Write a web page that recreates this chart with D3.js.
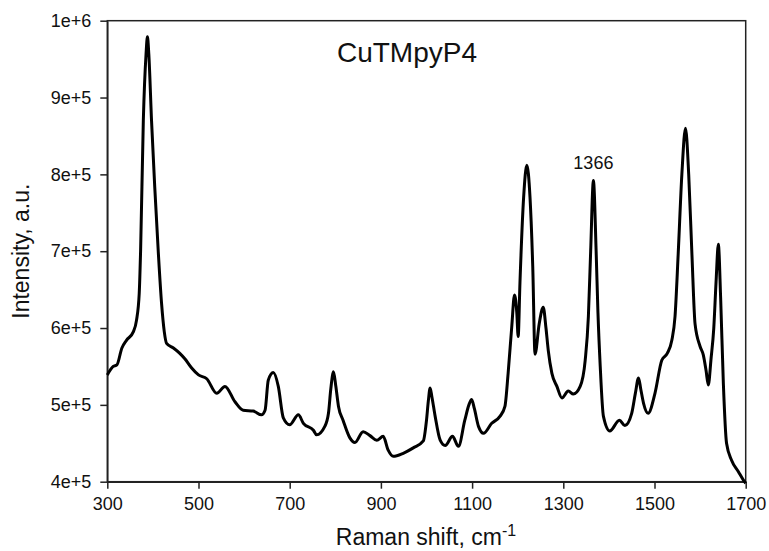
<!DOCTYPE html>
<html>
<head>
<meta charset="utf-8">
<script src="https://cdn.jsdelivr.net/npm/d3@7"></script>
<style>
  body { margin: 0; background: #fff; }
  text { font-family: Arial, "Liberation Sans", sans-serif; fill: #111; }
</style>
</head>
<body>
<div class="container"></div>
<script>
const wd = 769
const ht = 551
const margin = {top: 20.7, right: 23.3, bottom: 69.3, left: 107.3}

// spectrum (Raman shift, intensity)
const shift = [300, 313, 321, 332, 342, 357, 364, 370, 373, 379, 385, 388, 391, 397, 404, 412, 419, 425, 430, 445, 459, 470, 485, 500, 518, 540, 558, 580, 598, 620, 638, 646, 653, 664, 675, 686, 700, 719, 730, 752, 759, 777, 785, 790, 796, 801, 807, 817, 832, 843, 861, 876, 891, 905, 916, 927, 949, 971, 993, 1000, 1004, 1008, 1012, 1019, 1030, 1041, 1057, 1070, 1084, 1093, 1099, 1105, 1114, 1125, 1143, 1161, 1172, 1179, 1187, 1193, 1198, 1201, 1205, 1213, 1220, 1227, 1233, 1238, 1247, 1256, 1262, 1267, 1275, 1286, 1297, 1311, 1322, 1337, 1348, 1355, 1360, 1366, 1372, 1376, 1381, 1388, 1402, 1423, 1435, 1450, 1458, 1465, 1470, 1476, 1486, 1501, 1516, 1528, 1538, 1545, 1552, 1560, 1568, 1575, 1582, 1589, 1600, 1607, 1613, 1618, 1624, 1630, 1635, 1640, 1645, 1651, 1658, 1669, 1684, 1695, 1700]
const intensity = [539e3, 550e3, 552e3, 574e3, 584e3, 595e3, 610e3, 645e3, 700e3, 870e3, 957e3, 979e3, 957e3, 870e3, 784e3, 697e3, 632e3, 595e3, 580e3, 574e3, 567e3, 560e3, 548e3, 539e3, 534e3, 515e3, 524e3, 504e3, 493e3, 492e3, 487e3, 493e3, 532e3, 542e3, 524e3, 483e3, 474e3, 487e3, 476e3, 467e3, 461e3, 472e3, 489e3, 520e3, 543e3, 525e3, 498e3, 480e3, 457e3, 451e3, 465e3, 460e3, 454e3, 459e3, 441e3, 433e3, 437e3, 444e3, 453e3, 480e3, 505e3, 522e3, 510e3, 485e3, 454e3, 447e3, 459e3, 446e3, 480e3, 500e3, 507e3, 495e3, 472e3, 463e3, 476e3, 485e3, 498e3, 541e3, 602e3, 643e3, 620e3, 589e3, 660e3, 770e3, 812e3, 770e3, 680e3, 566e3, 605e3, 627e3, 600e3, 571e3, 541e3, 524e3, 509e3, 518e3, 514e3, 524e3, 558e3, 615e3, 700e3, 792e3, 700e3, 620e3, 550e3, 485e3, 466e3, 480e3, 473e3, 489e3, 515e3, 535e3, 520e3, 502e3, 489e3, 515e3, 558e3, 567e3, 584e3, 615e3, 697e3, 800e3, 860e3, 800e3, 697e3, 605e3, 576e3, 565e3, 545e3, 526e3, 560e3, 600e3, 660e3, 709e3, 640e3, 528e3, 450e3, 428e3, 413e3, 402e3, 398e3]

const xTicks = [300, 500, 700, 900, 1100, 1300, 1500, 1700]
const yTicks = [4e5, 5e5, 6e5, 7e5, 8e5, 9e5, 1e6]

const title = "CuTMpyP4"
const peakLabel = {shift: 1366, intensity: 792e3, text: "1366"}

const data = shift.map((s, i) => ({s: s, v: intensity[i]}))

const svg = d3.select(".container")
.append("svg")
.attr("width", wd)
.attr("height", ht)

const xScale = d3.scaleLinear()
.domain([300, 1700])
.range([margin.left, wd - margin.right])

const yScale = d3.scaleLinear()
.domain([4e5, 1e6])
.range([ht - margin.bottom, margin.top])

// frame
svg.append("rect")
.attr("x", margin.left)
.attr("y", margin.top)
.attr("width", wd - margin.left - margin.right)
.attr("height", ht - margin.top - margin.bottom)
.attr("fill", "none")
.style("stroke", "#222")
.style("stroke-width", "1.5px")

const xAxis = svg.append("g")
.attr("transform", "translate(0," + (ht - margin.bottom) + ")")
.call(d3.axisBottom(xScale).tickValues(xTicks).tickFormat(d3.format("d")).tickSizeInner(7).tickSizeOuter(0).tickPadding(9))

const yAxis = svg.append("g")
.attr("transform", "translate(" + margin.left + ",0)")
.call(d3.axisLeft(yScale).tickValues(yTicks).tickFormat(d3.format(".0e")).tickSizeInner(7).tickSizeOuter(0).tickPadding(9))

svg.selectAll(".domain").style("stroke", "#222").style("stroke-width", "1.5px")
svg.selectAll(".tick line").style("stroke", "#222").style("stroke-width", "1.5px")
svg.selectAll(".tick text")
.style("font-size", "18px")
.style("font-family", "Arial, 'Liberation Sans', sans-serif")
.attr("fill", "#111")

const line = d3.line()
.x(d => xScale(d.s))
.y(d => yScale(d.v))
.curve(d3.curveMonotoneX)

svg.append("path")
.datum(data)
.attr("d", line)
.attr("fill", "none")
.style("stroke", "#000")
.style("stroke-width", "3px")
.style("stroke-linejoin", "round")

svg.append("text")
.attr("x", 407)
.attr("y", 62)
.attr("text-anchor", "middle")
.style("font-size", "28px")
.text(title)

svg.append("text")
.attr("x", xScale(peakLabel.shift))
.attr("y", yScale(peakLabel.intensity) - 12)
.attr("text-anchor", "middle")
.style("font-size", "18px")
.text(peakLabel.text)

const xl = svg.append("text")
.attr("x", 426)
.attr("y", 545)
.attr("text-anchor", "middle")
.style("font-size", "23px")
xl.append("tspan").text("Raman shift, cm")
xl.append("tspan").attr("dy", -9).style("font-size", "16px").text("-1")

svg.append("text")
.attr("transform", "translate(29," + ((ht - margin.bottom + margin.top) / 2) + ") rotate(-90)")
.attr("text-anchor", "middle")
.style("font-size", "23px")
.text("Intensity, a.u.")
</script>
</body>
</html>
